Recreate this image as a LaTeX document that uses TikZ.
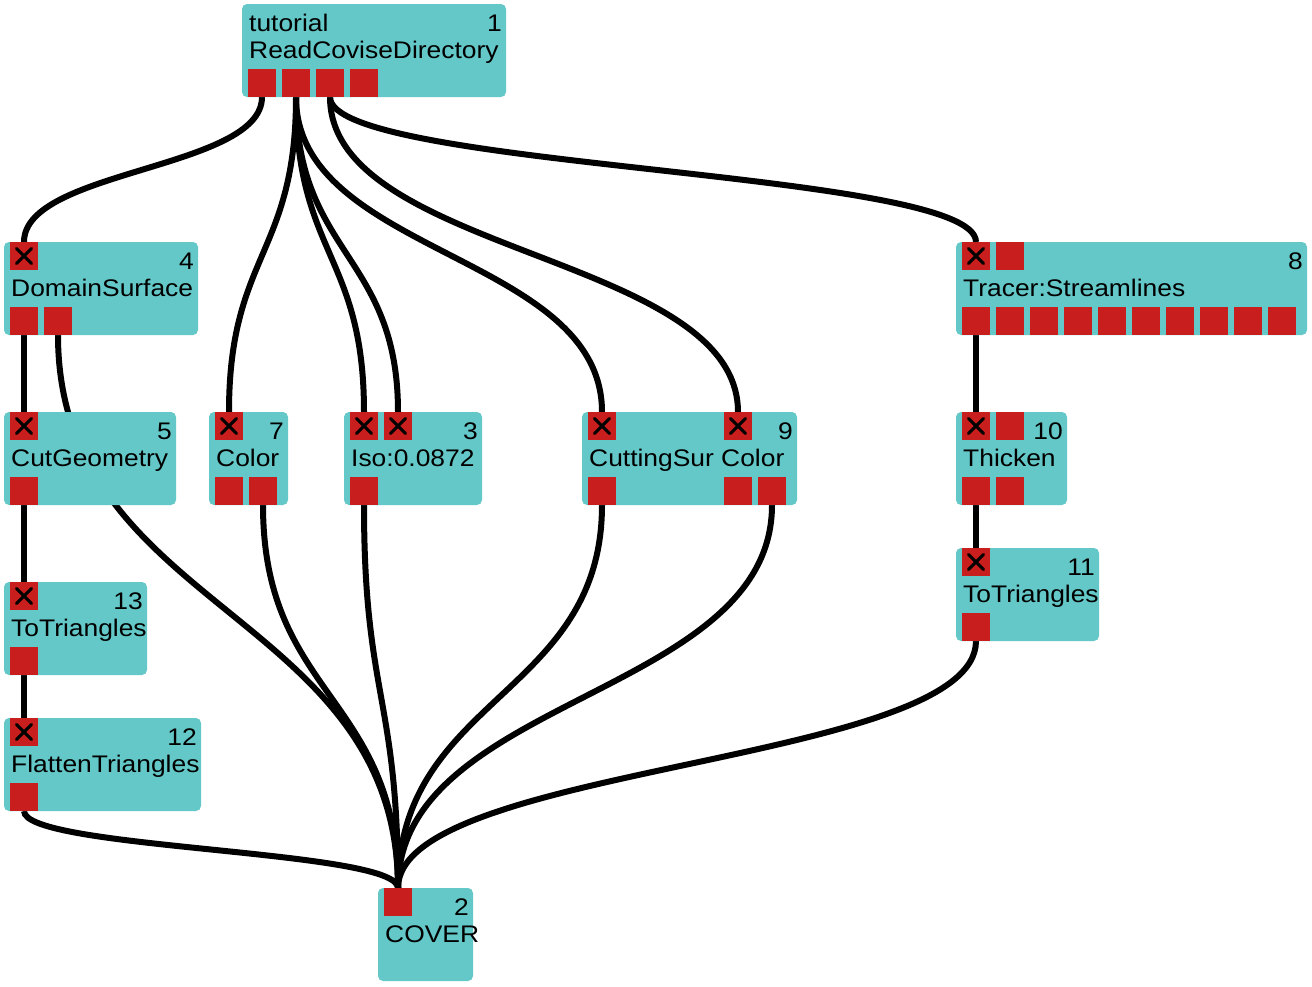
\documentclass[tikz,border=0pt]{standalone}
\usepackage{fontspec}
\setmainfont{Liberation Sans}[FakeStretch=1.1]
\usetikzlibrary{calc}

\definecolor{modfill}{RGB}{100,200,200}
\definecolor{portred}{RGB}{200,30,30}

\pgfdeclarelayer{canvas}
\pgfdeclarelayer{wires}
\pgfsetlayers{canvas,wires,main}

\tikzset{
  modbox/.style={fill=modfill, rounded corners=5pt, anchor=north west,
    minimum height=93pt, inner sep=0pt, outer sep=0pt},
  portbox/.style={fill=portred, anchor=north west, minimum width=28pt,
    minimum height=28pt, inner sep=0pt, outer sep=0pt},
  inport/.style={portbox, path picture={
    \draw[line width=3pt, line cap=round, black]
      ([shift={(-7.5pt,-7.5pt)}]path picture bounding box.center) --
      ([shift={(7.5pt,7.5pt)}]path picture bounding box.center)
      ([shift={(-7.5pt,7.5pt)}]path picture bounding box.center) --
      ([shift={(7.5pt,-7.5pt)}]path picture bounding box.center);}},
  numtext/.style={anchor=base east, inner sep=0pt},
  nametext/.style={anchor=base west, inner sep=0pt},
  wire/.style={line width=6pt, black, to path={
    let \p1=(\tikztostart), \p2=(\tikztotarget) in
    .. controls (\x1,{0.5*(\y1+\y2)}) and (\x2,{0.5*(\y1+\y2)}) .. (\tikztotarget)}}
}

% module box: id, left, top, width, number, name
\newcommand\covmodule[6]{%
  \node[modbox, minimum width=#4pt] (#1) at (#2,#3) {};
  \node[numtext] (#1num) at ($(#1.north east)+(-4pt,-27pt)$) {#5};
  \node[nametext] (#1name) at ($(#1.north west)+(7pt,-54pt)$) {#6};
}

\begin{document}
\begin{tikzpicture}[x=1pt, y=-1pt, font=\fontsize{24}{28}\selectfont]
\useasboundingbox (0,0) rectangle (1312,986);
\begin{pgfonlayer}{canvas}
  \fill[white] (0,0) rectangle (1312,986);
\end{pgfonlayer}

% modules
\covmodule{m1}{242}{4}{264}{1}{ReadCoviseDirectory}
\node[nametext] (m1pre) at ($(m1.north west)+(7pt,-27pt)$) {tutorial};
\covmodule{m4}{4}{242}{194}{4}{DomainSurface}
\covmodule{m8}{956}{242}{351}{8}{Tracer:Streamlines}
\covmodule{m5}{4}{412}{172}{5}{CutGeometry}
\covmodule{m7}{209}{412}{79}{7}{Color}
\covmodule{m3}{344}{412}{138}{3}{Iso:0.0872}
\covmodule{m9}{582}{412}{215}{9}{CuttingSur Color}
\covmodule{m10}{956}{412}{111}{10}{Thicken}
\covmodule{m11}{956}{548}{143}{11}{ToTriangles}
\covmodule{m13}{4}{582}{143}{13}{ToTriangles}
\covmodule{m12}{4}{718}{197}{12}{FlattenTriangles}
\covmodule{m2}{378}{888}{95}{2}{COVER}

% ports
\node[portbox] (m1o1) at (248,69) {};
\node[portbox] (m1o2) at (282,69) {};
\node[portbox] (m1o3) at (316,69) {};
\node[portbox] (m1o4) at (350,69) {};

\node[inport] (m4i1) at (10,242) {};
\node[portbox] (m4o1) at (10,307) {};
\node[portbox] (m4o2) at (44,307) {};

\node[inport] (m8i1) at (962,242) {};
\node[portbox] (m8i2) at (996,242) {};
\foreach \k in {0,...,9}{
  \node[portbox] (m8o\k) at (962+34*\k,307) {};
}

\node[inport] (m5i1) at (10,412) {};
\node[portbox] (m5o1) at (10,477) {};

\node[inport] (m7i1) at (215,412) {};
\node[portbox] (m7o1) at (215,477) {};
\node[portbox] (m7o2) at (249,477) {};

\node[inport] (m3i1) at (350,412) {};
\node[inport] (m3i2) at (384,412) {};
\node[portbox] (m3o1) at (350,477) {};

\node[inport] (m9i1) at (588,412) {};
\node[inport] (m9i2) at (724,412) {};
\node[portbox] (m9o1) at (588,477) {};
\node[portbox] (m9o2) at (724,477) {};
\node[portbox] (m9o3) at (758,477) {};

\node[inport] (m10i1) at (962,412) {};
\node[portbox] (m10i2) at (996,412) {};
\node[portbox] (m10o1) at (962,477) {};
\node[portbox] (m10o2) at (996,477) {};

\node[inport] (m11i1) at (962,548) {};
\node[portbox] (m11o1) at (962,613) {};

\node[inport] (m13i1) at (10,582) {};
\node[portbox] (m13o1) at (10,647) {};

\node[inport] (m12i1) at (10,718) {};
\node[portbox] (m12o1) at (10,783) {};

\node[portbox] (m2i1) at (384,888) {};

% connections
\begin{pgfonlayer}{wires}
  \draw[wire] (m1o1.south) to (m4i1.north);
  \draw[wire] (m1o2.south) to (m7i1.north);
  \draw[wire] (m1o2.south) to (m3i1.north);
  \draw[wire] (m1o2.south) to (m3i2.north);
  \draw[wire] (m1o2.south) to (m9i1.north);
  \draw[wire] (m1o3.south) to (m9i2.north);
  \draw[wire] (m1o3.south) to (m8i1.north);
  \draw[wire] (m4o1.south) to (m5i1.north);
  \draw[wire] (m4o2.south) to (m2i1.north);
  \draw[wire] (m5o1.south) to (m13i1.north);
  \draw[wire] (m13o1.south) to (m12i1.north);
  \draw[wire] (m12o1.south) to (m2i1.north);
  \draw[wire] (m7o2.south) to (m2i1.north);
  \draw[wire] (m3o1.south) to (m2i1.north);
  \draw[wire] (m9o1.south) to (m2i1.north);
  \draw[wire] (m9o3.south) to (m2i1.north);
  \draw[wire] (m8o0.south) to (m10i1.north);
  \draw[wire] (m10o1.south) to (m11i1.north);
  \draw[wire] (m11o1.south) to (m2i1.north);
\end{pgfonlayer}
\end{tikzpicture}
\end{document}
